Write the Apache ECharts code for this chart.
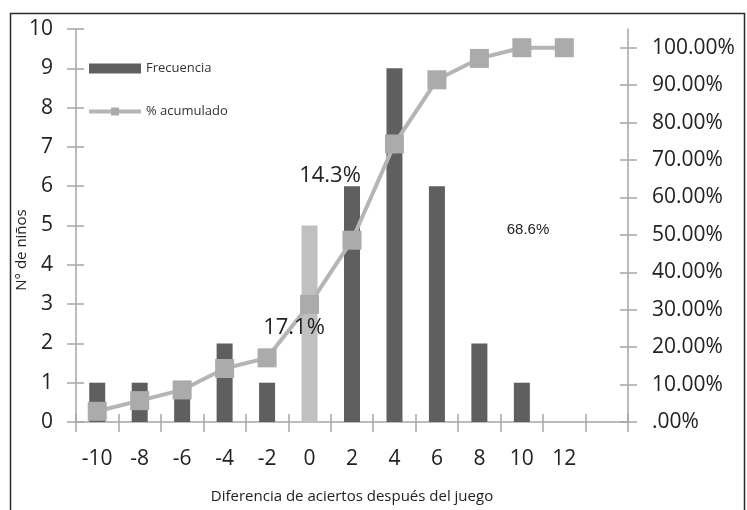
<!DOCTYPE html>
<html>
<head>
<meta charset="utf-8">
<script src="https://cdn.jsdelivr.net/npm/echarts@6/dist/echarts.min.js"></script>
<style>
html,body{margin:0;padding:0;background:#fff;}
#c{width:747px;height:510px;}
</style>
</head>
<body>
<div id="c"></div>
<script>
var categories = ['-10','-8','-6','-4','-2','0','2','4','6','8','10','12',''];
var frecuencia = [1,1,1,2,1,5,6,9,6,2,1,0,'-'];
var acumulado = [0.0286,0.0571,0.0857,0.1429,0.1714,0.3143,0.4857,0.7429,0.9143,0.9714,1.0,1.0,'-'];
var leftTicks = [0,1,2,3,4,5,6,7,8,9,10];
var rightTickValues = [0,0.1,0.2,0.3,0.4,0.5,0.6,0.7,0.8,0.9,1.0];
var rightTickLabels = ['.00%','10.00%','20.00%','30.00%','40.00%','50.00%','60.00%','70.00%','80.00%','90.00%','100.00%'];
var highlightCategory = '0';
var yTitle = 'N° de niños';
var xTitle = 'Diferencia de aciertos después del juego';
var annotations = [
  {text:'17.1%', x:294, y:328, size:22, font:'Open Sans'},
  {text:'14.3%', x:330, y:176, size:22, font:'Open Sans'},
  {text:'68.6%', x:528, y:230, size:15, font:'Liberation Sans'}
];

var DARK = '#5f5f5f', LIGHT = '#c0c0c0', LINE = '#b5b5b5', MARK = '#ababab';
var FONT = 'Open Sans';
var AX = '#a6a6a6';

var chart = echarts.init(document.getElementById('c'));

var barData = frecuencia.map(function(v,i){
  if (categories[i] === highlightCategory) return {value:v, itemStyle:{color:LIGHT}};
  return v;
});

var option = {
  animation:false,
  backgroundColor:'#fff',
  textStyle:{fontFamily:FONT},
  grid:{left:76, right:119, top:29, bottom:88},
  legend:{
    orient:'vertical', left:82, top:57, itemGap:30,
    itemWidth:52, itemHeight:10,
    lineStyle:{width:4, color:LINE},
    textStyle:{fontFamily:FONT, fontSize:13, color:'#333'},
    data:[
      {name:'Frecuencia', icon:'rect'},
      {name:'% acumulado'}
    ]
  },
  xAxis:[{
    type:'category', data:categories, boundaryGap:true,
    axisLine:{lineStyle:{color:AX, width:1.5}},
    axisTick:{show:true, length:10, lineStyle:{color:AX, width:1.5}},
    axisLabel:{fontFamily:FONT, fontSize:21, color:'#222', margin:27},
    name:xTitle,
    nameLocation:'middle', nameGap:67,
    nameTextStyle:{fontFamily:FONT, fontSize:15, color:'#222'}
  },{
    type:'category', data:categories, boundaryGap:true, position:'bottom',
    axisLine:{show:false},
    axisTick:{show:true, inside:true, length:8, lineStyle:{color:AX, width:1.5}},
    axisLabel:{show:false}
  }],
  yAxis:[{
    type:'value', min:0, max:10, interval:1, position:'left',
    splitLine:{show:false},
    axisLine:{show:true, lineStyle:{color:AX, width:1.5}},
    axisTick:{show:true, length:9, lineStyle:{color:AX, width:1.5}},
    axisLabel:{fontFamily:FONT, fontSize:21, color:'#222', margin:23,
      formatter:function(v){ return leftTicks.indexOf(v) >= 0 ? String(v) : ''; }}
  },{
    type:'value', min:0, max:1.05, interval:0.1, position:'right',
    splitLine:{show:false},
    axisLine:{show:true, lineStyle:{color:AX, width:1.5}},
    axisTick:{show:true, length:9, customValues:rightTickValues, lineStyle:{color:AX, width:1.5}},
    axisLabel:{fontFamily:FONT, fontSize:21, color:'#222', margin:24, customValues:rightTickValues,
      formatter:function(v){
        for (var i=0;i<rightTickValues.length;i++){ if (Math.abs(rightTickValues[i]-v)<1e-9) return rightTickLabels[i]; }
        return '';
      }}
  },{
    type:'value', min:0, max:10, interval:1, position:'left',
    splitLine:{show:false}, axisLine:{show:false},
    axisTick:{show:true, inside:true, length:8, lineStyle:{color:AX, width:1.5}},
    axisLabel:{show:false}
  },{
    type:'value', min:0, max:1.05, interval:0.1, position:'right',
    splitLine:{show:false}, axisLine:{show:false},
    axisTick:{show:true, inside:true, length:8, customValues:rightTickValues, lineStyle:{color:AX, width:1.5}},
    axisLabel:{show:false}
  }],
  series:[{
    name:'Frecuencia', type:'bar', xAxisIndex:0, yAxisIndex:0,
    data:barData, barWidth:16, itemStyle:{color:DARK}, z:2
  },{
    name:'% acumulado', type:'line', xAxisIndex:0, yAxisIndex:1,
    data:acumulado, symbol:'rect', symbolSize:19,
    lineStyle:{color:LINE, width:4}, itemStyle:{color:MARK},
    z:3
  }],
  graphic:[{
    type:'rect', left:8, top:11, silent:true, z:-1,
    shape:{width:734, height:520},
    style:{fill:'none', stroke:'#2b2b2b', lineWidth:1.5}
  },{
    type:'text', x:22, y:250, rotation:Math.PI/2, silent:true,
    style:{text:yTitle, fontFamily:FONT, fontSize:15, fill:'#222', align:'center', verticalAlign:'middle'}
  }].concat(annotations.map(function(a){
    return {type:'text', x:a.x, y:a.y, z:10, silent:true,
      style:{text:a.text, fontFamily:a.font, fontSize:a.size, fill:'#222', align:'center', verticalAlign:'middle'}};
  }))
};
chart.setOption(option);
</script>
</body>
</html>
